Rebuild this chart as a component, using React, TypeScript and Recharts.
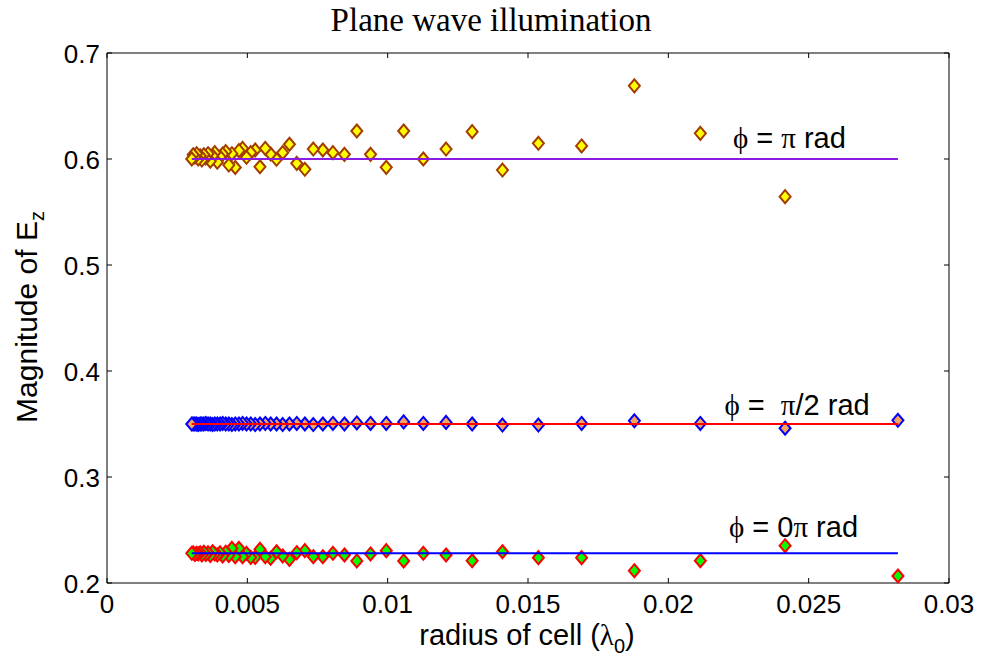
import React from 'react';
import { ScatterChart, Scatter, XAxis, YAxis, ReferenceDot } from 'recharts';

const xTicks = [0, 0.005, 0.01, 0.015, 0.02, 0.025, 0.03];
const xTickLabels = ['0', '0.005', '0.01', '0.015', '0.02', '0.025', '0.03'];
const yTicks = [0.2, 0.3, 0.4, 0.5, 0.6, 0.7];
const yTickLabels = ['0.2', '0.3', '0.4', '0.5', '0.6', '0.7'];

// cell radii (in wavelengths), largest first
const radii = [
  0.02818, 0.02416, 0.02114, 0.01879, 0.01691, 0.01537, 0.01409, 0.01301, 0.01208, 0.01127,
  0.01057, 0.00995, 0.00939, 0.0089, 0.00846, 0.00805, 0.00769, 0.00735, 0.00705, 0.00676,
  0.0065, 0.00626, 0.00604, 0.00583, 0.00564, 0.00545, 0.00528, 0.00512, 0.00497, 0.00483,
  0.0047, 0.00457, 0.00445, 0.00434, 0.00423, 0.00412, 0.00403, 0.00393, 0.00384, 0.00376,
  0.00368, 0.0036, 0.00352, 0.00345, 0.00338, 0.00332, 0.00325, 0.00319, 0.00313, 0.00307,
  0.00302,
];

// phi = pi (no point at the largest radius)
const piValues = [
  0.5645, 0.6242, 0.669, 0.6123, 0.6148, 0.5896, 0.6258, 0.6094, 0.6, 0.6264,
  0.5921, 0.6044, 0.6264, 0.6044, 0.606, 0.6085, 0.6094, 0.5903, 0.5959, 0.6139,
  0.606, 0.5997, 0.6047, 0.61, 0.5927, 0.6085, 0.606, 0.6016, 0.61, 0.6079,
  0.592, 0.605, 0.5943, 0.607, 0.6047, 0.602, 0.597, 0.606, 0.603, 0.598,
  0.605, 0.601, 0.604, 0.599, 0.603, 0.6, 0.605, 0.602, 0.604, 0.6,
];

// phi = pi/2
const halfPiValues = [
  0.3535, 0.346, 0.3505, 0.353, 0.3505, 0.349, 0.349, 0.35, 0.3515, 0.3505,
  0.352, 0.3505, 0.3505, 0.351, 0.35, 0.3505, 0.35, 0.3495, 0.35, 0.3505,
  0.35, 0.3495, 0.35, 0.35, 0.3505, 0.35, 0.3495, 0.35, 0.35, 0.3505,
  0.35, 0.35, 0.3495, 0.35, 0.35, 0.3505, 0.35, 0.35, 0.35, 0.3495,
  0.35, 0.35, 0.3505, 0.35, 0.35, 0.35, 0.3495, 0.35, 0.35, 0.35,
  0.35,
];

// phi = 0
const zeroValues = [
  0.2066, 0.2352, 0.221, 0.2116, 0.2239, 0.2239, 0.2295, 0.221, 0.2264, 0.228,
  0.2208, 0.2305, 0.2274, 0.2208, 0.2264, 0.228, 0.2248, 0.2248, 0.2305, 0.2286,
  0.2223, 0.2255, 0.2295, 0.2233, 0.2248, 0.2318, 0.2242, 0.2242, 0.228, 0.2248,
  0.2327, 0.2248, 0.2327, 0.226, 0.229, 0.2255, 0.2285, 0.2265, 0.2275, 0.2295,
  0.226, 0.2285, 0.227, 0.229, 0.2265, 0.2285, 0.2275, 0.228, 0.227, 0.2285,
  0.228,
];

// analytical levels drawn as lines
const levels = [0.6, 0.35, 0.228];

const piData = piValues.map((y, i) => ({ x: radii[i + 1], y }));
const halfPiData = halfPiValues.map((y, i) => ({ x: radii[i], y }));
const zeroData = zeroValues.map((y, i) => ({ x: radii[i], y }));
const lineSpan = [radii[radii.length - 1], radii[0]];
const levelLine = (v: number) => lineSpan.map((x) => ({ x, y: v }));

const SANS = '"Liberation Sans", Arial, sans-serif';
const SERIF = '"Liberation Serif", "DejaVu Serif", serif';

const diamond = (fill: string, stroke: string) => (p: any) => {
  const { cx, cy } = p;
  if (cx == null || cy == null) return <g />;
  return (
    <polygon
      points={`${cx},${cy - 6.5} ${cx + 5.5},${cy} ${cx},${cy + 6.5} ${cx - 5.5},${cy}`}
      fill={fill}
      stroke={stroke}
      strokeWidth={2}
    />
  );
};

const noDot = () => <g />;

const BottomTick = (p: any) => (
  <g>
    <line x1={p.x} y1={p.y} x2={p.x} y2={p.y - 5} stroke="#000" />
    <text x={p.x} y={p.y + 30} textAnchor="middle" fontSize={26} fontFamily={SANS} fill="#000">
      {xTickLabels[p.index]}
    </text>
  </g>
);

const LeftTick = (p: any) => (
  <g>
    <line x1={p.x} y1={p.y} x2={p.x + 5} y2={p.y} stroke="#000" />
    <text x={p.x - 7} y={p.y + 10} textAnchor="end" fontSize={26} fontFamily={SANS} fill="#000">
      {yTickLabels[p.index]}
    </text>
  </g>
);

const TopTick = (p: any) => <line x1={p.x} y1={p.y} x2={p.x} y2={p.y + 5} stroke="#000" />;
const RightTick = (p: any) => <line x1={p.x} y1={p.y} x2={p.x - 5} y2={p.y} stroke="#000" />;

const annotation = (core: React.ReactNode) => (p: any) => {
  const vb = p.viewBox || {};
  return (
    <text x={vb.x} y={vb.y} fontSize={29} fontFamily={SANS} fill="#000" style={{ whiteSpace: 'pre' }}>
      {core}
    </text>
  );
};

const phi = <tspan fontFamily={SERIF}>{'\u03D5'}</tspan>;
const pi = <tspan fontFamily={SERIF}>{'\u03C0'}</tspan>;

export default function App() {
  return (
    <div style={{ position: 'absolute', left: 0, top: 0, width: 982, height: 664, background: '#fff' }}>
      <svg width={982} height={40} style={{ position: 'absolute', left: 0, top: 0 }}>
        <text x={491} y={31} textAnchor="middle" fontSize={33} fontFamily={SERIF} fill="#000">
          Plane wave illumination
        </text>
      </svg>
      <ScatterChart
        width={982}
        height={664}
        margin={{ top: 52, right: 32, bottom: 41, left: 47 }}
        style={{ position: 'absolute', left: 0, top: 0 }}
      >
        <XAxis
          dataKey="x"
          type="number"
          domain={[0, 0.03]}
          ticks={xTicks}
          interval={0}
          height={40}
          tickSize={0}
          tickMargin={0}
          tickLine={false}
          axisLine={{ stroke: '#000' }}
          tick={<BottomTick />}
          label={{
            content: () => (
              <text x={527} y={645} textAnchor="middle" fontSize={29} fontFamily={SANS} fill="#000">
                radius of cell (<tspan fontFamily={SERIF}>λ</tspan>
                <tspan dy={8} fontSize={20}>0</tspan>
                <tspan dy={-8}>)</tspan>
              </text>
            ),
          }}
        />
        <XAxis
          xAxisId="top"
          dataKey="x"
          orientation="top"
          type="number"
          domain={[0, 0.03]}
          ticks={xTicks}
          interval={0}
          height={1}
          tickSize={0}
          tickMargin={0}
          tickLine={false}
          axisLine={{ stroke: '#000' }}
          tick={<TopTick />}
        />
        <YAxis
          dataKey="y"
          type="number"
          domain={[0.2, 0.7]}
          ticks={yTicks}
          interval={0}
          width={60}
          tickSize={0}
          tickMargin={0}
          tickLine={false}
          axisLine={{ stroke: '#000' }}
          tick={<LeftTick />}
          label={{
            content: () => (
              <text
                transform="translate(37,317) rotate(-90)"
                textAnchor="middle"
                fontSize={30}
                fontFamily={SANS}
                fill="#000"
              >
                Magnitude of E<tspan dy={7} fontSize={20}>z</tspan>
              </text>
            ),
          }}
        />
        <YAxis
          yAxisId="right"
          dataKey="y"
          orientation="right"
          type="number"
          domain={[0.2, 0.7]}
          ticks={yTicks}
          interval={0}
          width={1}
          tickSize={0}
          tickMargin={0}
          tickLine={false}
          axisLine={{ stroke: '#000' }}
          tick={<RightTick />}
        />
        <Scatter data={piData} shape={diamond('#FFFF00', '#A33C00')} isAnimationActive={false} />
        <Scatter data={halfPiData} shape={diamond('#F7A35C', '#0000FF')} isAnimationActive={false} />
        <Scatter data={zeroData} shape={diamond('#00FF00', '#FF0000')} isAnimationActive={false} />
        <Scatter
          xAxisId="top"
          yAxisId="right"
          data={levelLine(levels[0])}
          line={{ stroke: '#8A1BE2', strokeWidth: 2 }}
          shape={noDot}
          isAnimationActive={false}
        />
        <Scatter
          xAxisId="top"
          yAxisId="right"
          data={levelLine(levels[1])}
          line={{ stroke: '#FF0000', strokeWidth: 2 }}
          shape={noDot}
          isAnimationActive={false}
        />
        <Scatter
          xAxisId="top"
          yAxisId="right"
          data={levelLine(levels[2])}
          line={{ stroke: '#0000FF', strokeWidth: 2 }}
          shape={noDot}
          isAnimationActive={false}
        />
        <ReferenceDot
          x={0.0223}
          y={0.6104}
          r={0}
          fill="none"
          stroke="none"
          label={{ content: annotation(<>{phi}{' = '}{pi}{' rad'}</>) }}
        />
        <ReferenceDot
          x={0.022}
          y={0.3585}
          r={0}
          fill="none"
          stroke="none"
          label={{ content: annotation(<>{phi}{' =  '}{pi}{'/2 rad'}</>) }}
        />
        <ReferenceDot
          x={0.02216}
          y={0.2437}
          r={0}
          fill="none"
          stroke="none"
          label={{ content: annotation(<>{phi}{' = 0'}{pi}{' rad'}</>) }}
        />
      </ScatterChart>
    </div>
  );
}
